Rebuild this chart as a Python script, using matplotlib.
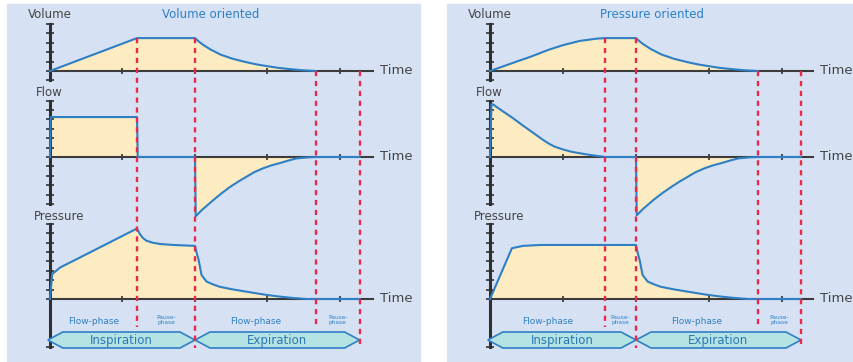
import matplotlib
matplotlib.use("Agg")
import matplotlib.pyplot as plt
from matplotlib.patches import Rectangle, Polygon

W, H = 854, 362

# phase boundaries in time units (1 unit = 1 tick on the time axis)
vo_phases = [0.0, 1.2, 2.0, 3.67, 4.27]
po_phases = [0.0, 1.58, 2.0, 3.67, 4.26]

# volume oriented
vo_vol_t = [0, 1.2, 2.0, 2.02, 2.05, 2.1, 2.2, 2.35, 2.52, 2.7, 2.85, 2.99, 3.15, 3.31,
            3.5, 3.67]
vo_vol = [0, 3.5, 3.5, 3.35, 3.15, 2.85, 2.35, 1.75, 1.3, 0.95, 0.7, 0.52, 0.33, 0.2,
          0.07, 0]
vo_flow_t = [0, 0.01, 1.2, 1.21, 2.0, 2.01, 2.1, 2.25, 2.36, 2.48, 2.6, 2.71, 2.82, 2.94,
             3.05, 3.17, 3.3, 3.4, 3.55, 3.67, 4.27]
vo_flow = [0, 4.25, 4.25, 0, 0, -6.3, -5.6, -4.6, -3.9, -3.2, -2.6, -2.1, -1.6, -1.2,
           -0.9, -0.65, -0.35, -0.15, -0.04, 0, 0]
vo_pres_t = [0, 0.03, 0.14, 0.55, 1.2, 1.24, 1.28, 1.33, 1.42, 1.52, 1.7, 2.0, 2.02, 2.05,
             2.09, 2.16, 2.25, 2.34, 2.5, 2.71, 2.85, 2.99, 3.15, 3.31, 3.45, 3.54, 4.27]
vo_pres = [0, 2.65, 3.35, 4.95, 7.5, 6.9, 6.5, 6.2, 5.98, 5.85, 5.75, 5.65, 5.0, 4.15,
           2.55, 1.85, 1.55, 1.3, 1.05, 0.78, 0.6, 0.43, 0.27, 0.14, 0.05, 0, 0]

# pressure oriented
po_vol_t = [0, 0.2, 0.4, 0.55, 0.8, 1.0, 1.23, 1.47, 1.58, 2.0, 2.02, 2.05, 2.1, 2.2,
            2.35, 2.52, 2.7, 2.85, 2.99, 3.15, 3.31, 3.5, 3.67]
po_vol = [0, 0.55, 1.1, 1.5, 2.25, 2.75, 3.2, 3.45, 3.5, 3.5, 3.35, 3.15, 2.85, 2.35,
          1.75, 1.3, 0.95, 0.7, 0.52, 0.33, 0.2, 0.07, 0]
po_flow_t = [0, 0.02, 0.04, 0.15, 0.32, 0.45, 0.55, 0.65, 0.72, 0.8, 0.88, 1.0, 1.12, 1.23,
             1.4, 1.58, 2.0, 2.01, 2.1, 2.25, 2.36, 2.48, 2.6, 2.71, 2.82, 2.94, 3.05,
             3.17, 3.3, 3.4, 3.55, 3.67, 4.26]
po_flow = [0, 5.6, 5.6, 5.0, 4.1, 3.35, 2.8, 2.25, 1.85, 1.45, 1.12, 0.8, 0.55, 0.4,
           0.18, 0, 0, -6.2, -5.5, -4.5, -3.85, -3.2, -2.6, -2.1, -1.6, -1.2, -0.9,
           -0.65, -0.35, -0.15, -0.04, 0, 0]
po_pres_t = [0, 0.3, 0.45, 0.7, 2.0, 2.02, 2.05, 2.09, 2.16, 2.25, 2.34, 2.5, 2.71, 2.85,
             2.99, 3.15, 3.31, 3.45, 3.54, 4.26]
po_pres = [0, 5.4, 5.65, 5.75, 5.75, 5.0, 4.15, 2.55, 1.85, 1.55, 1.3, 1.05, 0.78, 0.6,
           0.43, 0.27, 0.14, 0.05, 0, 0]

BG = '#d6e2f4'
FILL = '#fdebc1'
BLUE = '#2e7fc4'
RED = '#e8294a'
AXIS = '#303030'
TEAL = '#b5e3e4'
TEXT = '#444444'
SY = 9.4  # px per amplitude unit

fig = plt.figure(figsize=(W / 100, H / 100), dpi=100)


def px_axes(x0, x1, y0, y1):
    return fig.add_axes([x0 / W, 1 - y1 / H, (x1 - x0) / W, (y1 - y0) / H])


def draw_panel(px_l, px_r, ox, sx, title, phases, traces, t_end):
    fig.patches.append(Rectangle((px_l / W, 0), (px_r - px_l) / W, 1 - 4 / H,
                                 transform=fig.transFigure, color=BG, zorder=-1))
    xlim = ((px_l - ox) / sx, (px_r - ox) / sx)

    # rows: (label, t, values, top, bottom, base, spine bounds, yticks)
    rows = [
        ('Volume', traces[0], traces[1], 5, 85, 71, (-1, 5), range(-1, 6)),
        ('Flow', traces[2], traces[3], 85, 222, 157, (-5, 6), range(-5, 7)),
        ('Pressure', traces[4], traces[5], 215, 352, 299, (-5.1, 8), [-5.1] + list(range(0, 9))),
    ]
    for label, t, v, top, bot, base, bounds, yt in rows:
        ax = px_axes(px_l, px_r, top, bot)
        ax.set_facecolor('none')
        ax.set_xlim(*xlim)
        ax.set_ylim((base - bot) / SY, (base - top) / SY)
        ax.fill_between(t, v, 0, color=FILL, lw=0, zorder=1)
        ax.plot(t, v, color=BLUE, lw=1.5, zorder=3, solid_joinstyle='round')
        for s in ('top', 'right'):
            ax.spines[s].set_visible(False)
        ax.spines['left'].set_position(('data', 0))
        ax.spines['bottom'].set_position(('data', 0))
        ax.spines['left'].set_bounds(*bounds)
        ax.spines['bottom'].set_bounds(0, t_end)
        ax.spines['left'].set_linewidth(2.2)
        ax.spines['bottom'].set_linewidth(1.5)
        ax.spines['left'].set_color(AXIS)
        ax.spines['bottom'].set_color('#3c3c3c')
        ax.set_yticks(list(yt))
        ax.set_xticks([1, 2, 3, 4])
        ax.tick_params(axis='y', direction='inout', length=6, width=1.2, color=AXIS,
                       labelleft=False)
        ax.tick_params(axis='x', direction='inout', length=4, width=1.2, color=AXIS,
                       labelbottom=False)
        ax.text(t_end + 0.1, 0, 'Time', va='center', ha='left', fontsize=9.5, color=TEXT)

    ov = px_axes(px_l, px_r, 0, H)
    ov.set_axis_off()
    ov.set_xlim(*xlim)
    ov.set_ylim(H, 0)

    ov.text(-0.3, 15, 'Volume', fontsize=8.5, color=TEXT, va='center', ha='left')
    ov.text(-0.2, 93, 'Flow', fontsize=8.5, color=TEXT, va='center', ha='left')
    ov.text(-0.22, 216, 'Pressure', fontsize=8.5, color=TEXT, va='center', ha='left')
    ov.text(2.22, 15, title, fontsize=8.5, color=BLUE, va='center', ha='center')

    # red phase markers
    tops = [38, 38, 71, 71]
    bots = [327, 348, 327, 348]
    for t, y0, y1 in zip(phases[1:], tops, bots):
        ov.plot([t, t], [y0, y1], color=RED, lw=1.7, ls=(0, (2.2, 2.0)), zorder=5)

    # phase labels
    mids = [(a + b) / 2 for a, b in zip(phases[:-1], phases[1:])]
    for i, m in enumerate(mids):
        if i % 2 == 0:
            ov.text(m, 322, 'Flow-phase', fontsize=6.5, color=BLUE, ha='center', va='center')
        else:
            ov.text(m, 320, 'Pause-\nphase', fontsize=4.2, color=BLUE, ha='center',
                    va='center', linespacing=0.85)

    # inspiration / expiration chevrons
    d = 15 / sx
    for a, b, name in [(phases[0] - 0.03, phases[2], 'Inspiration'),
                       (phases[2], phases[4], 'Expiration')]:
        pts = [(a, 340), (a + d, 332), (b - d, 332), (b, 340), (b - d, 348), (a + d, 348)]
        ov.add_patch(Polygon(pts, closed=True, facecolor=TEAL, edgecolor=BLUE, lw=1.2, zorder=2))
        ov.text((a + b) / 2, 340.5, name, fontsize=8.5, color='#2a78b5', ha='center',
                va='center', zorder=3)


draw_panel(7, 420, 50, 72.5, 'Volume oriented', vo_phases,
           [vo_vol_t, vo_vol, vo_flow_t, vo_flow, vo_pres_t, vo_pres], 4.45)
draw_panel(447, 854, 490, 73, 'Pressure oriented', po_phases,
           [po_vol_t, po_vol, po_flow_t, po_flow, po_pres_t, po_pres], 4.42)

fig.savefig('out.png', dpi=100, facecolor='white')
